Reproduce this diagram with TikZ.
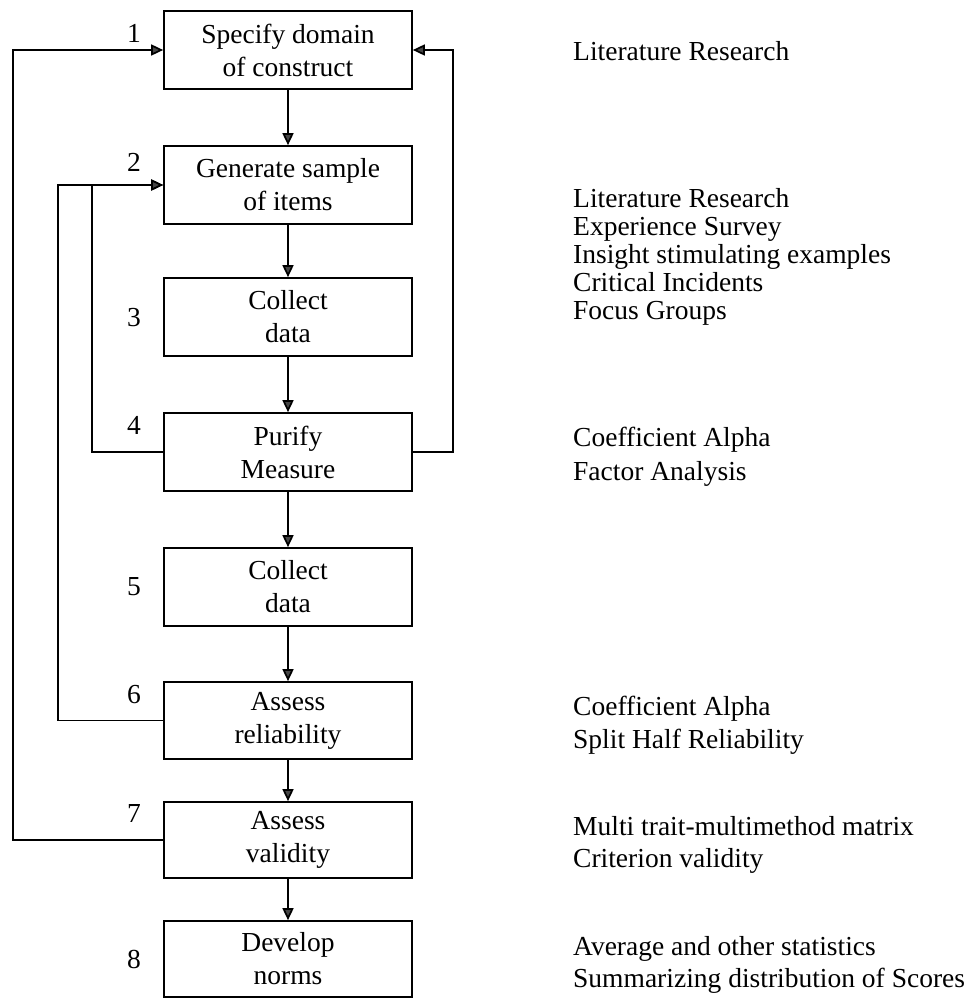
\documentclass[tikz,border=0pt]{standalone}
\usepackage{fontspec}
\setmainfont{Liberation Serif}
\usetikzlibrary{arrows.meta}
\begin{document}
\begin{tikzpicture}[x=1pt,y=-1pt,
  stage/.style={draw, line width=1.7pt, minimum width=248pt, minimum height=78pt,
    inner sep=0pt, align=center, font=\fontsize{27.5}{33}\selectfont},
  num/.style={inner sep=0pt, font=\fontsize{27.5}{33}\selectfont},
  note/.style={anchor=base west, inner sep=0pt, font=\fontsize{27.5}{33}\selectfont},
  flow/.style={line width=1.7pt, -{Triangle[length=12pt,width=11pt,fill=gray!55!black]}}]
\useasboundingbox (0,0) rectangle (976,999);

% stages of the procedure
\node[stage] (b1) at (288,50)  {Specify domain\\of construct};
\node[stage] (b2) at (288,185) {Generate sample\\of items};
\node[stage] (b3) at (288,317) {Collect\\data};
\node[stage] (b4) at (288,452) {Purify\\Measure};
\node[stage] (b5) at (288,587) {Collect\\data};
\node[stage, minimum height=77pt] (b6) at (288,720.5) {Assess\\reliability};
\node[stage, minimum height=76pt] (b7) at (288,840) {Assess\\validity};
\node[stage, minimum height=76pt] (b8) at (288,959) {Develop\\norms};

% step numbers
\node[num] (k1) at (134,33)  {1};
\node[num] (k2) at (134,162) {2};
\node[num] (k3) at (134,318) {3};
\node[num] (k4) at (134,425) {4};
\node[num] (k5) at (134,587) {5};
\node[num] (k6) at (134,695) {6};
\node[num] (k7) at (134,813) {7};
\node[num] (k8) at (134,959) {8};

% main sequence
\draw[flow] (b1.south) -- (b2.north);
\draw[flow] (b2.south) -- (b3.north);
\draw[flow] (b3.south) -- (b4.north);
\draw[flow] (b4.south) -- (b5.north);
\draw[flow] (b5.south) -- (b6.north);
\draw[flow] (b6.south) -- (b7.north);
\draw[flow] (b7.south) -- (b8.north);

% feedback loops
\draw[flow] (b7.west) -- ++(-150,0) |- (b1.west);
\draw[flow] (b4.east) -- ++(40,0) |- (b1.east);
\draw[flow] (b4.west) -- ++(-71,0) |- (b2.west);
\draw[flow] (b6.west) -- ++(-105,0) |- (b2.west);

% methods for each stage
\node[note] (m1)  at (573,60)  {Literature Research};
\node[note] (m2a) at (573,207) {Literature Research};
\node[note] (m2b) at (573,235) {Experience Survey};
\node[note] (m2c) at (573,263) {Insight stimulating examples};
\node[note] (m2d) at (573,291) {Critical Incidents};
\node[note] (m2e) at (573,319) {Focus Groups};
\node[note] (m4a) at (573,446) {Coefficient Alpha};
\node[note] (m4b) at (573,480) {Factor Analysis};
\node[note] (m6a) at (573,715) {Coefficient Alpha};
\node[note] (m6b) at (573,748) {Split Half Reliability};
\node[note] (m7a) at (573,835) {Multi trait-multimethod matrix};
\node[note] (m7b) at (573,867) {Criterion validity};
\node[note] (m8a) at (573,955) {Average and other statistics};
\node[note] (m8b) at (573,987) {Summarizing distribution of Scores};
\end{tikzpicture}
\end{document}
